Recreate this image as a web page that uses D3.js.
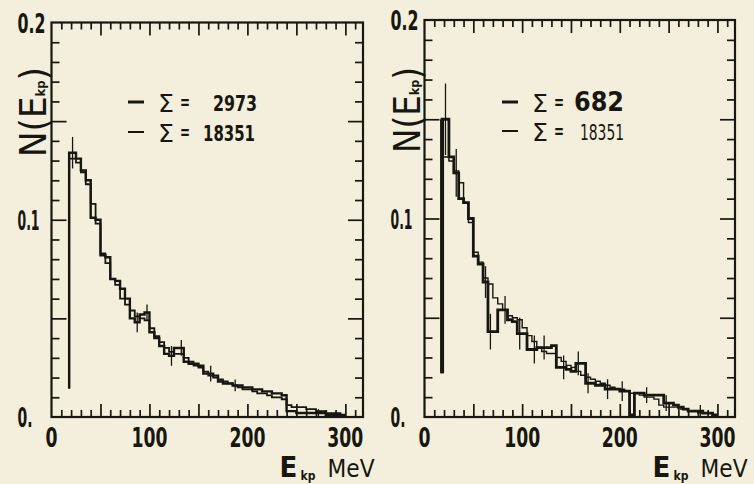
<!DOCTYPE html>
<html><head><meta charset="utf-8">
<script src="https://cdn.jsdelivr.net/npm/d3@7"></script>
<style>
html,body{margin:0;padding:0;background:#f3efdc;}
svg{display:block;}
text{fill:#17160f;}
</style></head>
<body>
<svg id="c" width="754" height="484"></svg>
<script>
// ---------------- DATA ----------------
const binEdges = [18,25,30,35,40,45,50,55,60,65,70,75,80,85,90,95,100,105,110,115,120,125,130,135,140,145,150,155,160,165,170,175,180,185,190,195,200,205,210,215,220,225,230,235,240,245,250,255,260,265,270,275,280,285,290,295,300];

// thin histogram, Σ = 18351 (shown in both panels)
const allEvents = [0.131,0.129,0.124,0.118,0.108,0.098,0.083,0.078,0.070,0.067,
  0.060,0.057,0.054,0.051,0.050,0.049,0.045,0.041,0.038,0.035,
  0.033,0.032,0.032,0.030,0.028,0.026,0.025,0.023,0.021,0.020,
  0.019,0.018,0.017,0.016,0.015,0.014,0.014,0.013,0.012,0.012,
  0.011,0.010,0.010,0.009,0.006,0.005,0.005,0.005,0.004,0.004,
  0.003,0.003,0.002,0.002,0.002,0.001];

// thick histogram, left panel, Σ = 2973
const leftEvents = [0.134,0.131,0.125,0.120,0.101,0.100,0.082,0.081,0.070,0.069,
  0.065,0.060,0.050,0.048,0.052,0.053,0.043,0.040,0.036,0.032,
  0.031,0.035,0.035,0.028,0.027,0.027,0.026,0.022,0.022,0.021,
  0.018,0.017,0.017,0.016,0.016,0.015,0.015,0.014,0.014,0.013,
  0.013,0.012,0.012,0.011,0.003,0.003,0.002,0.002,0.002,0.002,
  0.002,0.002,0.001,0.001,0.001,0.001];
const leftErrors = [0.008,0,0,0,0,0,0,0,0,0,
  0,0,0,0.005,0,0.004,0,0,0,0,
  0.005,0,0.004,0,0,0,0,0,0.004,0,
  0,0,0,0.003,0,0,0,0,0,0,
  0,0,0,0,0,0,0,0,0,0,
  0.002,0,0,0,0,0];
const leftEdgeBase = 0.0144;

// thick histogram, right panel, Σ = 682
const rightEvents = [0.150,0.131,0.123,0.110,0.108,0.100,0.081,0.077,0.068,0.043,
  0.043,0.054,0.054,0.049,0.048,0.042,0.042,0.034,0.034,0.035,
  0.035,0.035,0.036,0.025,0.025,0.024,0.023,0.027,0.027,0.017,
  0.017,0.016,0.016,0.014,0.014,0.014,0.013,0.013,0.001,0.012,
  0.012,0.011,0.011,0.011,0.011,0.007,0.007,0.006,0.005,0.004,
  0.003,0.003,0.003,0.002,0.002,0.001];
const rightErrors = [0.018,0,0.012,0,0,0,0,0,0.008,0.009,
  0,0,0.007,0,0,0.008,0,0,0.007,0,
  0.006,0,0,0,0.006,0,0,0.006,0,0.005,
  0,0,0,0.005,0,0,0.005,0,0,0,
  0,0.004,0,0,0,0.004,0,0,0,0,
  0,0,0.003,0,0,0];
const rightEdgeBase = 0.022;

const xTickValues = [0,100,200,300];
const xTickLabels = ["0","100","200","300"];
const yTickValues = [0,0.1,0.2];
const yTickLabels = ["0.","0.1","0.2"];
const legendLeft = [{sym:"Σ", total:"2973"},{sym:"Σ", total:"18351"}];
const legendRight = [{sym:"Σ", total:"682"},{sym:"Σ", total:"18351"}];

// ---------------- DRAW ----------------
const svg = d3.select("#c");
const ink = "#17160f";
const numFont = "'DejaVu Sans Condensed','DejaVu Sans',sans-serif";

function panel(opt){
  const x = d3.scaleLinear().domain([0,318]).range([opt.left, opt.right]);
  const y = d3.scaleLinear().domain([0,0.2]).range([opt.bottom, opt.top]);
  const g = svg.append("g");

  g.append("rect").attr("x",opt.left).attr("y",opt.top)
    .attr("width",opt.right-opt.left).attr("height",opt.bottom-opt.top)
    .attr("fill","none").attr("stroke",ink).attr("stroke-width",2.2);

  const xMinor = x.ticks(32).filter(d => d % 50 !== 0 && d>0);
  const xMajor = x.ticks(32).filter(d => d % 50 === 0 && d>0);
  const yMinor = y.ticks(20).filter(d => Math.round(d*1000) % 50 !== 0);
  const yMajor = y.ticks(20).filter(d => Math.round(d*1000) % 50 === 0 && d>0 && d<0.2);

  function addAxis(axis, tr){
    const a = g.append("g").attr("transform",tr).call(axis);
    a.select(".domain").remove();
    a.selectAll("text").remove();
    a.selectAll("line").attr("stroke",ink).attr("stroke-width",1.7);
  }
  addAxis(d3.axisBottom(x).tickValues(xMinor).tickSize(-7), `translate(0,${opt.bottom})`);
  addAxis(d3.axisBottom(x).tickValues(xMajor).tickSize(-13), `translate(0,${opt.bottom})`);
  addAxis(d3.axisTop(x).tickValues(xMinor).tickSize(-7), `translate(0,${opt.top})`);
  addAxis(d3.axisTop(x).tickValues(xMajor).tickSize(-13), `translate(0,${opt.top})`);
  addAxis(d3.axisLeft(y).tickValues(yMinor).tickSize(-8), `translate(${opt.left},0)`);
  addAxis(d3.axisLeft(y).tickValues(yMajor).tickSize(-15), `translate(${opt.left},0)`);
  addAxis(d3.axisRight(y).tickValues(yMinor).tickSize(-8), `translate(${opt.right},0)`);
  addAxis(d3.axisRight(y).tickValues(yMajor).tickSize(-15), `translate(${opt.right},0)`);

  // tick labels
  g.selectAll(".xl").data(xTickValues).enter().append("text")
    .attr("x", d => x(d)).attr("y", opt.bottom+30)
    .attr("text-anchor","middle").attr("font-family",numFont).attr("font-weight","bold")
    .attr("font-size",27)
    .attr("textLength",(d,i) => 12*xTickLabels[i].length).attr("lengthAdjust","spacingAndGlyphs")
    .text((d,i) => xTickLabels[i]);
  g.selectAll(".yl").data(yTickValues).enter().append("text")
    .attr("x", opt.left-34).attr("y", d => y(d)+10)
    .attr("text-anchor","start").attr("font-family",numFont).attr("font-weight","bold")
    .attr("font-size",27)
    .attr("textLength",(d,i) => [15,22,28][i]).attr("lengthAdjust","spacingAndGlyphs")
    .text((d,i) => yTickLabels[i]);

  // x title
  g.append("text").attr("x", opt.left+228).attr("y", 477).attr("font-family",numFont)
    .attr("font-size",29).attr("font-weight","bold").text("E");
  g.append("text").attr("x", opt.left+249).attr("y", 480).attr("font-family",numFont)
    .attr("font-size",12).attr("font-weight","bold").text("kp");
  g.append("text").attr("x", opt.left+276).attr("y", 477).attr("font-family",numFont)
    .attr("font-size",24).attr("textLength",47).attr("lengthAdjust","spacingAndGlyphs").text("MeV");

  // y title (rotated, compressed along reading direction)
  const yl = g.append("text").attr("font-family",numFont).attr("font-size",38);
  yl.append("tspan").text("N(E");
  yl.append("tspan").text("kp").attr("font-size",13).attr("font-weight","bold").attr("dy",-1);
  yl.append("tspan").text(")").attr("dy",1);
  const w = yl.node().getBBox().width;
  yl.attr("text-anchor","start")
    .attr("transform",`translate(${opt.ylabX},${opt.ylabBottom}) rotate(-90) scale(${opt.ylabLen/w},1)`);

  // histograms
  function stepPath(vals, base){
    const p = d3.path();
    p.moveTo(x(binEdges[0]), y(base==null ? vals[0] : base));
    vals.forEach((v,i) => {
      p.lineTo(x(binEdges[i]), y(v));
      p.lineTo(x(binEdges[i+1]), y(v));
    });
    return p.toString();
  }
  g.append("path").attr("d", stepPath(allEvents, null))
    .attr("fill","none").attr("stroke",ink).attr("stroke-width",opt.thinW);
  g.append("path").attr("d", stepPath(opt.vals, opt.base))
    .attr("fill","none").attr("stroke",ink).attr("stroke-width",opt.thickW);
  g.append("line").attr("x1",x(binEdges[0])).attr("x2",x(binEdges[0]))
    .attr("y1",y(opt.base)).attr("y2",y(opt.vals[0]))
    .attr("stroke",ink).attr("stroke-width",opt.edgeW);

  // error bars
  g.selectAll(".eb").data(opt.vals.map((v,i)=>({v, e:opt.errs[i], c:(binEdges[i]+binEdges[i+1])/2})).filter(d=>d.e>0))
    .enter().append("line")
    .attr("x1",d=>x(d.c)).attr("x2",d=>x(d.c))
    .attr("y1",d=>y(d.v-d.e)).attr("y2",d=>y(d.v+d.e))
    .attr("stroke",ink).attr("stroke-width",1.3);

  // legend
  opt.legend.forEach((L,i) => {
    const ly = opt.legY[i];
    g.append("line").attr("x1",opt.legX).attr("x2",opt.legX+16).attr("y1",ly).attr("y2",ly)
      .attr("stroke",ink).attr("stroke-width", i===0 ? 3 : 2);
    g.append("text").attr("x",opt.legX+30).attr("y",ly+10).attr("font-family",numFont)
      .attr("font-size",24).attr("textLength",16).attr("lengthAdjust","spacingAndGlyphs").text(L.sym);
    g.append("text").attr("x",opt.legX+52).attr("y",ly+7).attr("font-family",numFont)
      .attr("font-size",20).attr("font-weight","bold")
      .attr("textLength",10).attr("lengthAdjust","spacingAndGlyphs").text("=");
    g.append("text").attr("x",opt.numX[i]).attr("y",ly+9).attr("font-family",numFont)
      .attr("font-size",opt.numSize[i]).attr("font-weight", opt.numBold[i] ? "bold":"normal")
      .attr("textLength",opt.numLen[i]).attr("lengthAdjust","spacingAndGlyphs").text(L.total);
  });
}

panel({left:51.5, right:363, top:22.5, bottom:417, vals:leftEvents, errs:leftErrors, base:leftEdgeBase,
  thinW:1.8, thickW:2.4, edgeW:2, ylabX:46, ylabBottom:157, ylabLen:90, legend:legendLeft, legX:128, legY:[102,132],
  numX:[213,203], numLen:[44,52], numSize:[22,22], numBold:[true,true]});
panel({left:424.5, right:735, top:20, bottom:417, vals:rightEvents, errs:rightErrors, base:rightEdgeBase,
  thinW:1.4, thickW:2.8, edgeW:4, ylabX:420, ylabBottom:153, ylabLen:86, legend:legendRight, legX:502, legY:[102,131],
  numX:[574,580], numLen:[50,44], numSize:[26,22], numBold:[true,false]});
</script>
</body></html>
